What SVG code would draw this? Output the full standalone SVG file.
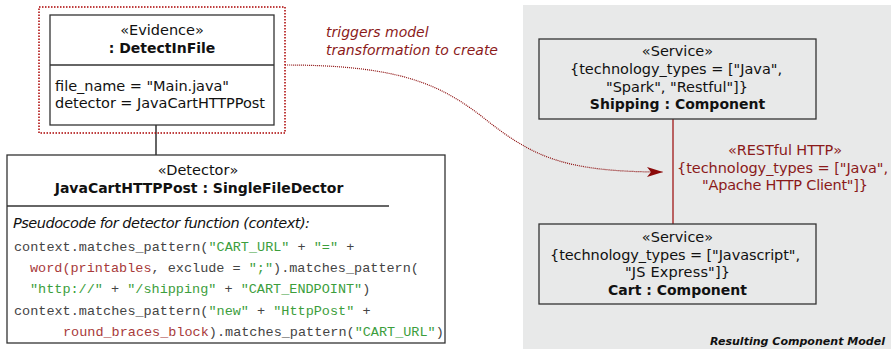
<svg xmlns="http://www.w3.org/2000/svg" width="894" height="349" viewBox="0 0 894 349">
<defs>
<style>
.t{font-family:"DejaVu Sans",Verdana,sans-serif;font-size:14.5px;fill:#111}
.b{font-weight:bold;font-size:14px}
.c{text-anchor:middle}
.r{fill:#8b1a1a}
.code{font-family:"Liberation Mono","Courier New",monospace;font-size:13.5px;fill:#444}
.g{fill:#3c9e3c}
.rd{fill:#a83a3a}
.box{fill:#fff;stroke:#333;stroke-width:1.3}
.gbox{fill:#e8e9e9;stroke:#333;stroke-width:1.3}
</style>
<marker id="arr" markerWidth="18" markerHeight="12" refX="16" refY="6" orient="auto" markerUnits="userSpaceOnUse">
<path d="M0,1 L16,6 L0,11 L4,6 Z" fill="#8b0a0a"/>
</marker>
</defs>
<rect x="523" y="5" width="368" height="344" fill="#e8e9e9"/>
<text class="t b" x="885" y="345" text-anchor="end" font-style="italic" style="font-size:10.5px" textLength="175" lengthAdjust="spacingAndGlyphs">Resulting Component Model</text>

<g id="connectors">
<line x1="156" y1="125" x2="156" y2="155" stroke="#111" stroke-width="1.3"/>
<line x1="673" y1="118" x2="673" y2="224" stroke="#a33" stroke-width="1.5"/>
<path d="M285,65 C400,65 440,85 480,115 C530,155 560,172 663,172" fill="none" stroke="#8b0a0a" stroke-width="1.2" stroke-dasharray="1,1" marker-end="url(#arr)"/>
<text class="t r" x="326" y="37" font-style="italic" style="font-size:14px">triggers model</text>
<text class="t r" x="326" y="55" font-style="italic" style="font-size:14px">transformation to create</text>
<text class="t r c" x="785" y="155" textLength="114">«RESTful HTTP»</text>
<text class="t r c" x="782.5" y="173" textLength="211">{technology_types = ["Java",</text>
<text class="t r c" x="785" y="190" textLength="166">"Apache HTTP Client"]}</text>
</g>

<g id="evidence">
<rect x="39" y="7" width="246" height="126" fill="none" stroke="#a00" stroke-width="1.5" stroke-dasharray="1.5,1.5"/>
<rect class="box" x="50" y="15" width="224" height="110"/>
<line x1="50" y1="65" x2="274" y2="65" stroke="#333" stroke-width="1.3"/>
<text class="t c" x="162" y="35">«Evidence»</text>
<text class="t b c" x="162" y="53">: DetectInFile</text>
<text class="t" x="55" y="91" textLength="174">file_name = "Main.java"</text>
<text class="t" x="55" y="108" textLength="210">detector = JavaCartHTTPPost</text>
</g>

<g id="detector">
<rect class="box" x="7" y="155" width="438" height="188"/>
<line x1="7" y1="206" x2="389" y2="206" stroke="#333" stroke-width="1.3"/>
<text class="t c" x="198" y="175">«Detector»</text>
<text class="t b c" x="199" y="193">JavaCartHTTPPost : SingleFileDector</text>
<text class="t" x="13" y="228" font-style="italic" textLength="297">Pseudocode for detector function (context):</text>
<text class="code" x="14" y="251" xml:space="preserve">context.matches_pattern(<tspan class="g">"CART_URL"</tspan> + <tspan class="g">"="</tspan> +</text>
<text class="code" x="30" y="272" xml:space="preserve"><tspan class="rd">word(printables</tspan>, exclude = <tspan class="g">";"</tspan>).matches_pattern(</text>
<text class="code" x="30" y="293" xml:space="preserve"><tspan class="g">"http://"</tspan> + <tspan class="g">"/shipping"</tspan> + <tspan class="g">"CART_ENDPOINT"</tspan>)</text>
<text class="code" x="14" y="315" xml:space="preserve">context.matches_pattern(<tspan class="g">"new"</tspan> + <tspan class="g">"HttpPost"</tspan> +</text>
<text class="code" x="63" y="336" xml:space="preserve"><tspan class="rd">round_braces_block</tspan>).matches_pattern(<tspan class="g">"CART_URL"</tspan>)</text>
</g>

<g id="shipping">
<rect class="gbox" x="539" y="39" width="277" height="80"/>
<text class="t c" x="677.5" y="56">«Service»</text>
<text class="t c" x="676" y="74" textLength="212">{technology_types = ["Java",</text>
<text class="t c" x="677" y="92" textLength="142">"Spark", "Restful"]}</text>
<text class="t b c" x="677.5" y="109">Shipping : Component</text>
</g>

<g id="cart">
<rect class="gbox" x="539" y="224" width="277" height="80"/>
<text class="t c" x="677.5" y="242">«Service»</text>
<text class="t c" x="675" y="260" textLength="250">{technology_types = ["Javascript",</text>
<text class="t c" x="677.5" y="277" textLength="105">"JS Express"]}</text>
<text class="t b c" x="677.5" y="295">Cart : Component</text>
</g>
</svg>
